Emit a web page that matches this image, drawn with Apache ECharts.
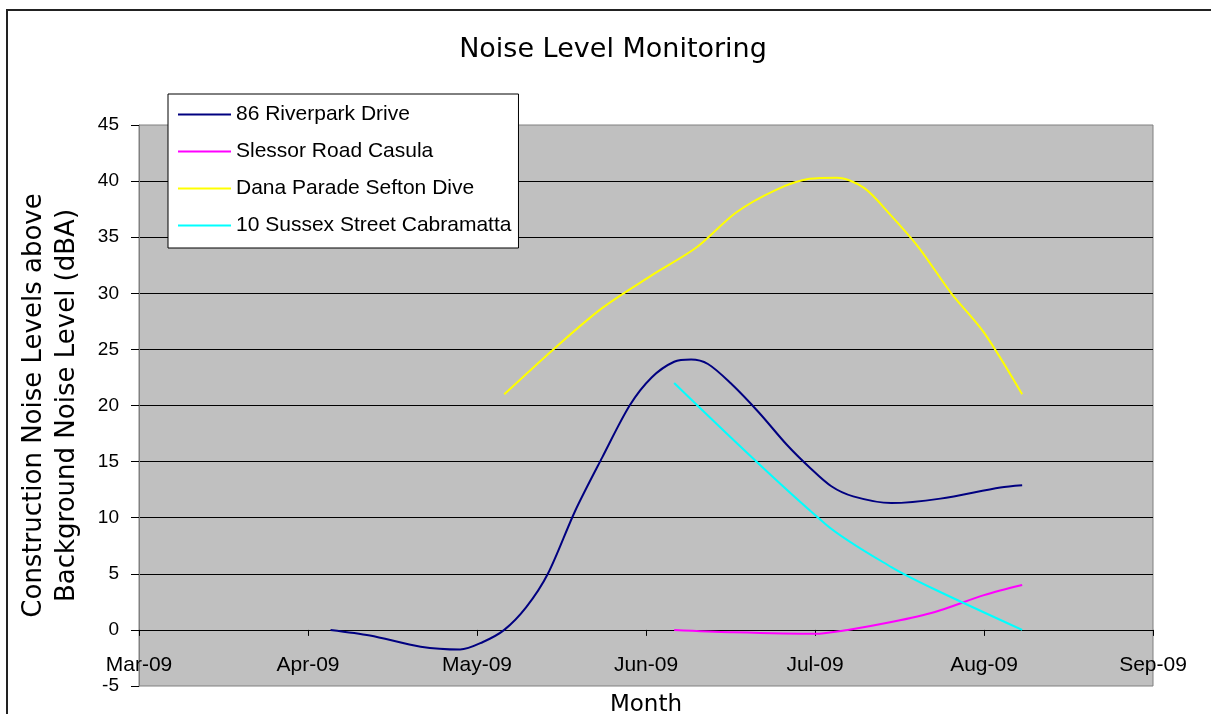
<!DOCTYPE html>
<html>
<head>
<meta charset="utf-8">
<script src="https://cdn.jsdelivr.net/npm/echarts@6/dist/echarts.min.js"></script>
<style>
html,body{margin:0;padding:0;background:#fff;}
#chart{width:1211px;height:714px;}
</style>
</head>
<body>
<div id="chart"></div>
<script>
const tickLabels = ['Mar-09','Apr-09','May-09','Jun-09','Jul-09','Aug-09','Sep-09'];
const seriesNames = ['86 Riverpark Drive','Slessor Road Casula','Dana Parade Sefton Dive','10 Sussex Street Cabramatta'];

const riverparkDates = ['2009-04-05','2009-04-12','2009-04-21','2009-04-28','2009-05-02','2009-05-06','2009-05-10','2009-05-14','2009-05-19','2009-05-24','2009-05-29','2009-06-02','2009-06-06','2009-06-09','2009-06-12','2009-06-16','2009-06-21','2009-06-26','2009-06-30','2009-07-04','2009-07-08','2009-07-15','2009-07-24','2009-08-04','2009-08-08'];
const riverparkValues = [0,-0.5,-1.5,-1.75,-1.1,0,2,5,10.6,15.4,20,22.5,23.9,24.1,23.7,22.0,19.4,16.5,14.5,12.8,11.9,11.3,11.7,12.7,12.9];

const slessorDates = ['2009-06-06','2009-06-16','2009-07-01','2009-07-07','2009-07-15','2009-07-23','2009-08-01','2009-08-08'];
const slessorValues = [0,-0.2,-0.35,0,0.7,1.6,3.1,4.0];

const danaDates = ['2009-05-06','2009-05-15','2009-05-24','2009-06-02','2009-06-10','2009-06-17','2009-06-24','2009-06-30','2009-07-05','2009-07-10','2009-07-15','2009-07-20','2009-07-26','2009-08-01','2009-08-08'];
const danaValues = [21,25,28.7,31.6,34.1,37.2,39.2,40.2,40.3,39.4,36.9,34.1,30,26.5,21];

const sussexDates = ['2009-06-06','2009-07-03','2009-07-15','2009-07-23','2009-08-08'];
const sussexValues = [22,9.4,5.6,3.6,0];

const colors = ['#000080','#FF00FF','#FFFF00','#00FFFF'];

// month position: 0 = 1 Mar 2009, each month equally spaced
function monthPos(s){
  const d = new Date(s + 'T00:00:00Z');
  const mi = d.getUTCMonth();
  const dim = new Date(Date.UTC(d.getUTCFullYear(), mi + 1, 0)).getUTCDate();
  return (mi - 2) + (d.getUTCDate() - 1) / dim;
}
function pairs(dates, vals){ return dates.map((d,i)=>[monthPos(d), vals[i]]); }

const allData = [
  pairs(riverparkDates, riverparkValues),
  pairs(slessorDates, slessorValues),
  pairs(danaDates, danaValues),
  pairs(sussexDates, sussexValues)
];

const chart = echarts.init(document.getElementById('chart'), null, {renderer:'canvas'});
chart.setOption({
  animation:false,
  backgroundColor:'#ffffff',
  title:{
    text:'Noise Level Monitoring',
    left:613,
    textAlign:'center',
    top:36,
    padding:0,
    textStyle:{fontFamily:'DejaVu Sans',fontSize:27,fontWeight:'normal',color:'#000'}
  },
  graphic:[{
    type:'rect',
    shape:{x:7,y:10,width:1230,height:730},
    style:{fill:'none',stroke:'#222',lineWidth:2},
    silent:true,z:-1
  }],
  legend:{
    data:seriesNames,
    orient:'vertical',
    left:168,
    top:94,
    padding:[10,7,12,10],
    itemGap:16,
    itemWidth:53,
    itemHeight:2,
    icon:'rect',
    backgroundColor:'#ffffff',
    borderColor:'#000',
    borderWidth:1,
    borderRadius:0,
    textStyle:{fontFamily:'Liberation Sans',fontSize:21,color:'#000'},
    z:10
  },
  grid:{
    left:139,right:58,top:125,bottom:28,
    show:true,
    backgroundColor:'#C0C0C0',
    borderColor:'#808080',
    borderWidth:1,
    containLabel:false,
    outerBoundsMode:'none'
  },
  xAxis:{
    type:'value',
    min:0,max:6,interval:1,
    name:'Month',
    nameLocation:'middle',
    nameGap:8,
    nameTextStyle:{fontFamily:'DejaVu Sans',fontSize:23,color:'#000'},
    axisLine:{show:true,onZero:true,lineStyle:{color:'#000',width:1}},
    axisTick:{show:true,inside:false,length:6,lineStyle:{color:'#000'}},
    axisLabel:{margin:-31,fontFamily:'Liberation Sans',fontSize:21,color:'#000',
      formatter:function(v){ return tickLabels[Math.round(v)] || ''; }},
    splitLine:{show:false}
  },
  yAxis:{
    type:'value',
    min:-5,max:45,interval:5,
    name:'Construction Noise Levels above\nBackground Noise Level (dBA)',
    nameLocation:'middle',
    nameGap:55,
    nameTextStyle:{fontFamily:'DejaVu Sans',fontSize:26,lineHeight:33,color:'#000',align:'center'},
    axisLine:{show:true,onZero:false,lineStyle:{color:'#808080',width:1}},
    axisTick:{show:true,inside:false,length:8,lineStyle:{color:'#000'}},
    axisLabel:{margin:20,fontFamily:'Liberation Sans',fontSize:19,color:'#000'},
    splitLine:{show:true,showMinLine:false,showMaxLine:false,lineStyle:{color:'#000',width:1}}
  },
  series: seriesNames.map((n,i)=>({
    name:n,
    type:'line',
    data:allData[i],
    smooth:0.3,
    symbol:'none',
    color:colors[i],
    lineStyle:{color:colors[i],width:2},
    z:3
  }))
});
</script>
</body>
</html>
